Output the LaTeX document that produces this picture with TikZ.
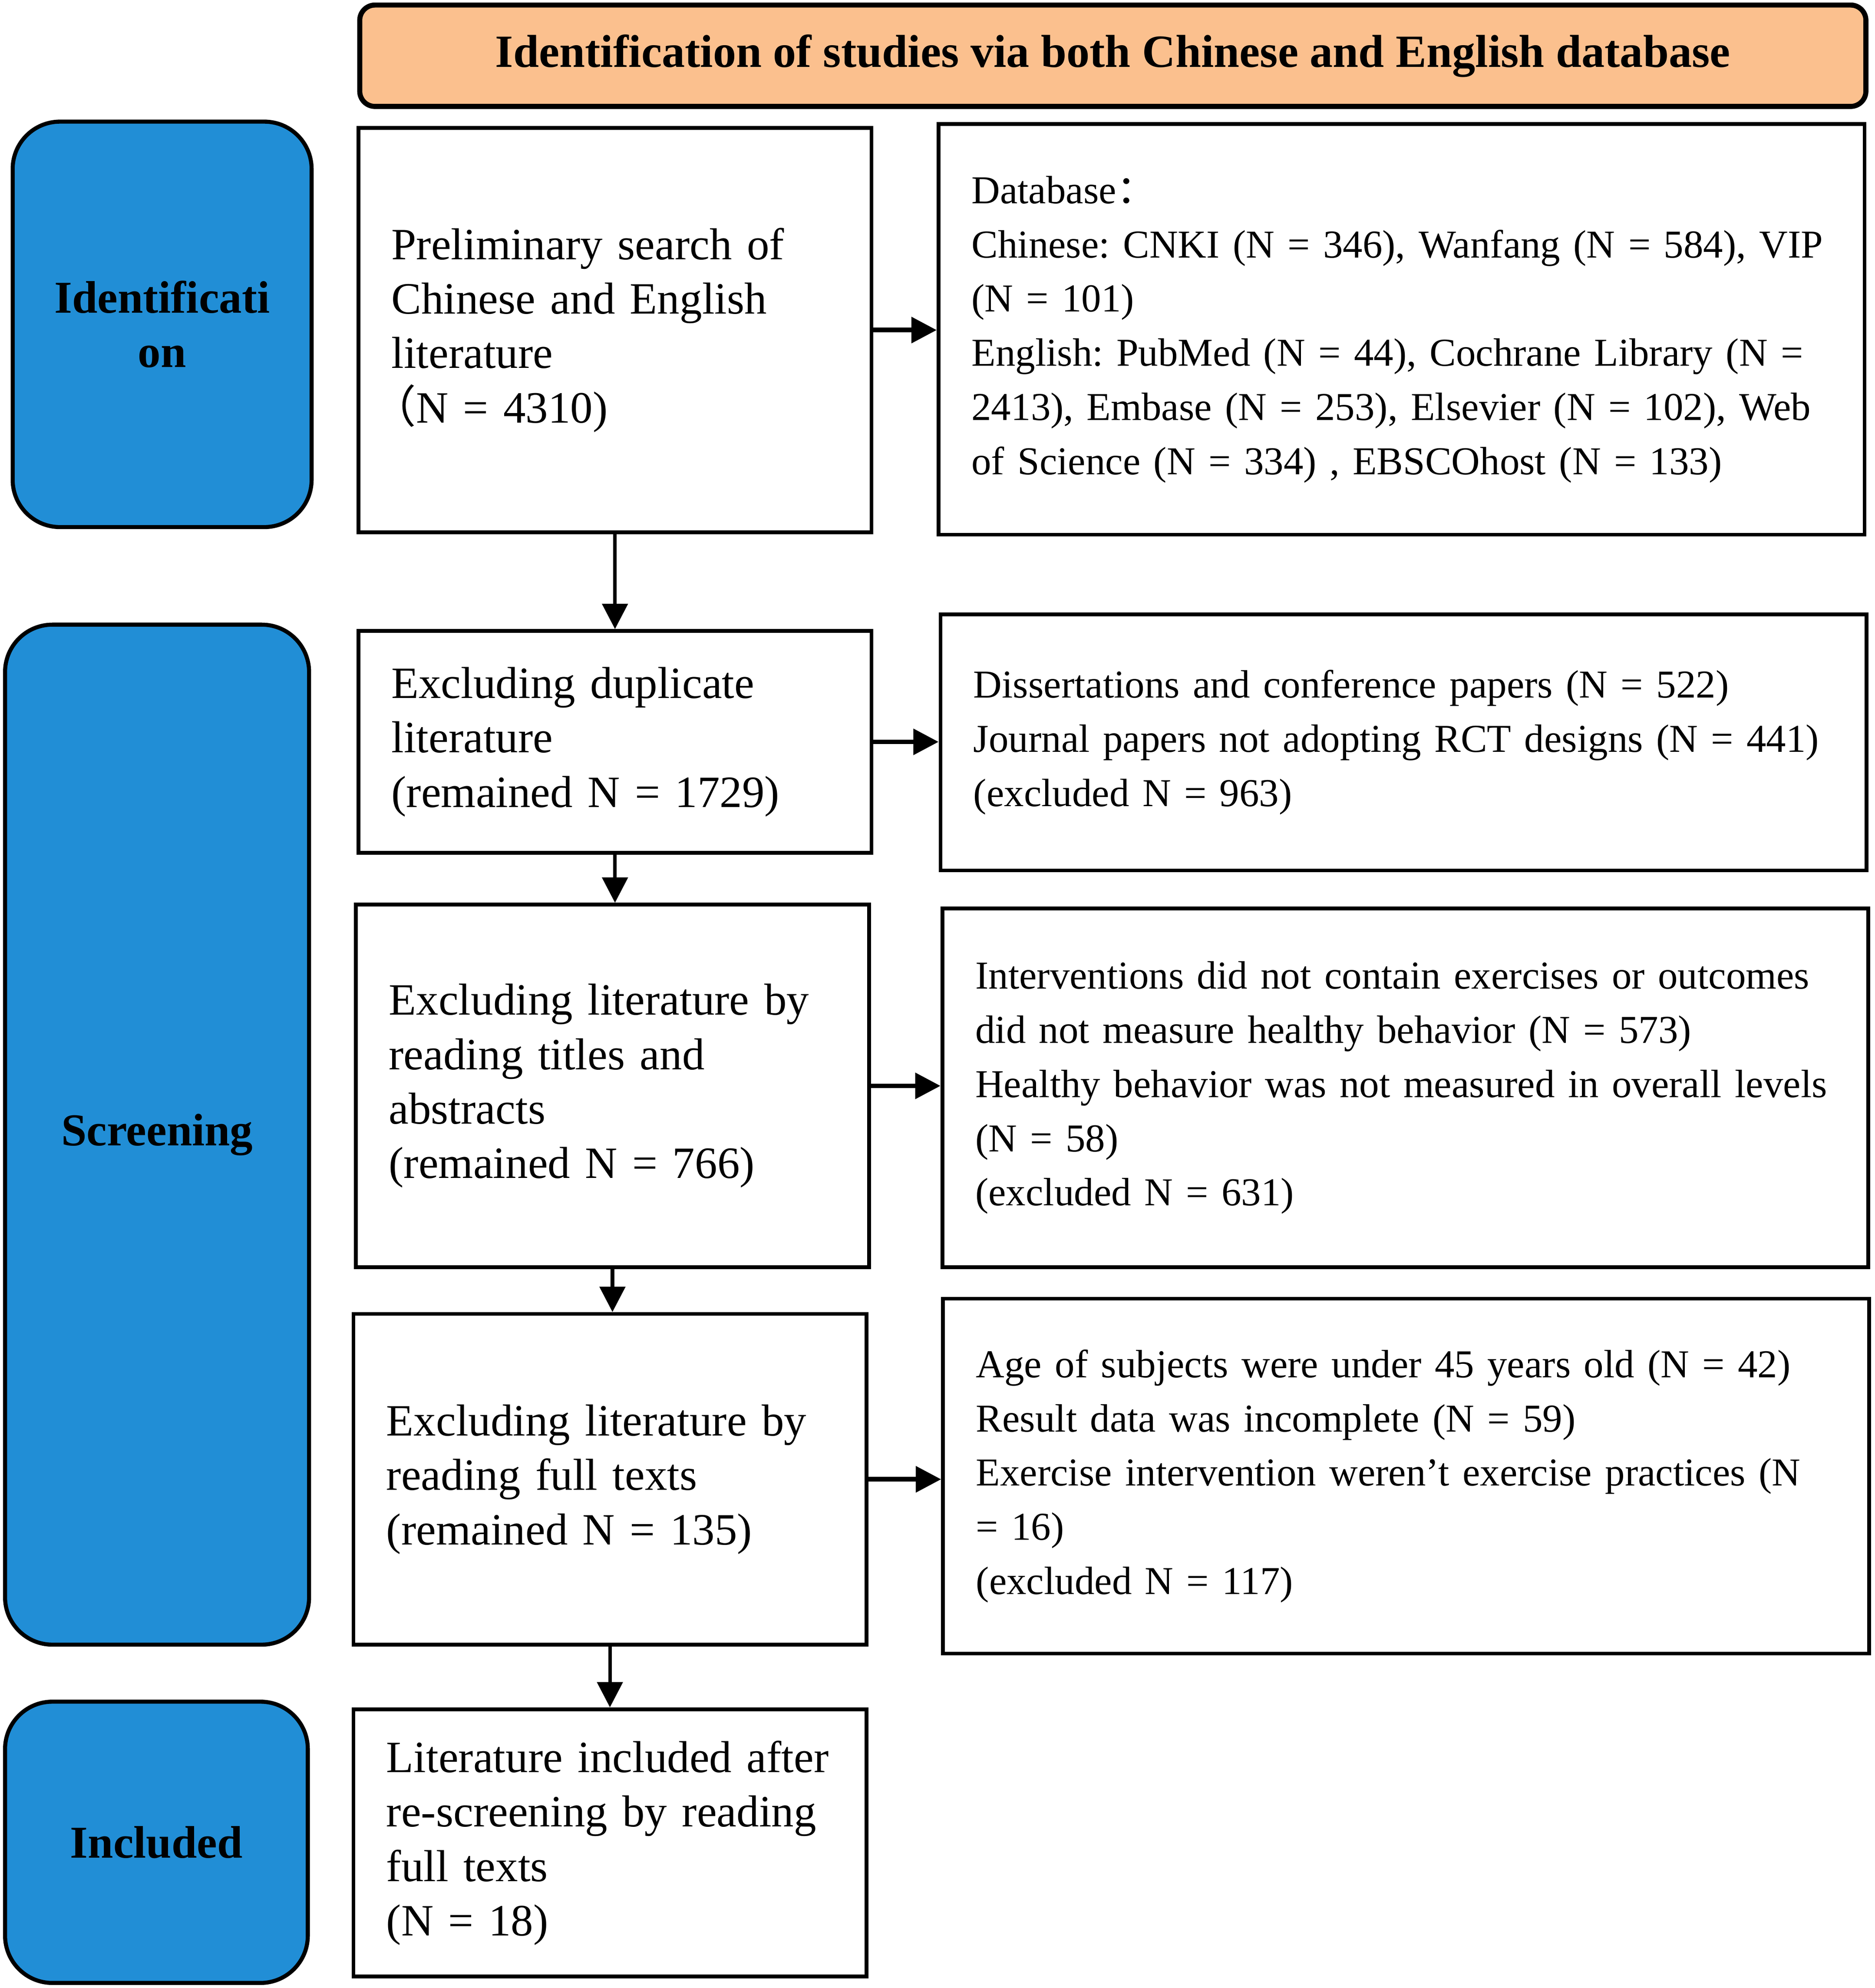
\documentclass[tikz,border=0pt]{standalone}
\usepackage{fontspec}
\setmainfont{Liberation Serif}
\newfontfamily\cjk{Noto Sans CJK SC}
\usetikzlibrary{arrows.meta}
\frenchspacing
\hyphenpenalty=10000

\definecolor{stagefill}{RGB}{33,142,214}
\definecolor{headfill}{RGB}{251,192,142}

\tikzset{every picture/.style={line width=0.75pt}}
\tikzset{
	flowbox/.style={draw, line width=2.25pt, rectangle, align=left, inner xsep=19.5pt, inner ysep=0pt, font=\fontsize{26.5pt}{32.25pt}\selectfont},
	sidebox/.style={flowbox, font=\fontsize{23.4pt}{32.1pt}\selectfont},
	stagebox/.style={draw, line width=2.4pt, fill=stagefill, rounded corners=28pt, align=center, inner sep=0pt, font=\bfseries\fontsize{27pt}{32.25pt}\selectfont},
	headbox/.style={draw, line width=3pt, fill=headfill, rounded corners=9pt, inner sep=0pt, font=\bfseries\fontsize{27.3pt}{32.25pt}\selectfont},
	downarrow/.style={-{Triangle[length=15pt,width=15pt]}, line width=2.1pt},
	sidearrow/.style={-{Triangle[length=15pt,width=15pt]}, line width=2.8pt},
}

\begin{document}
\begin{tikzpicture}[x=0.75pt,y=0.75pt,yscale=-1,xscale=1]
	\useasboundingbox (0,0) rectangle (1480,1569); %keep the page at the size of the figure

	%Shape: Rounded Rect [id:head] 
	\node[headbox, minimum width=891.75pt, minimum height=60pt] (head) at (878.5,44) {Identification of studies via both Chinese and English database};

	%Shape: Rounded Rect [id:identification] 
	\node[stagebox, minimum width=177pt, minimum height=240pt] (ident) at (128,256) {Identificati\\on};
	%Shape: Rounded Rect [id:screening] 
	\node[stagebox, minimum width=180pt, minimum height=603.75pt] (screen) at (124,895.5) {Screening};
	%Shape: Rounded Rect [id:included] 
	\node[stagebox, minimum width=179.25pt, minimum height=166.5pt] (incl) at (123.5,1454) {Included};

	%Shape: Rectangle [id:prelim] 
	\node[flowbox, text width=264.75pt, minimum height=239.25pt] (prelim) at (485.5,260.5) {Preliminary search of\\Chinese and English\\literature\\\hspace*{-.45em}{\cjk （}N = 4310)};
	%Shape: Rectangle [id:dupl] 
	\node[flowbox, text width=264.75pt, minimum height=131.25pt] (dupl) at (485.5,585.5) {Excluding duplicate\\literature\\(remained N = 1729)};
	%Shape: Rectangle [id:titles] 
	\node[flowbox, text width=264.75pt, minimum height=214.5pt] (titles) at (483.5,857) {Excluding literature by\\reading titles and\\abstracts\\(remained N = 766)};
	%Shape: Rectangle [id:fulltext] 
	\node[flowbox, text width=264.75pt, minimum height=195.75pt] (fulltext) at (481.5,1167.5) {Excluding literature by\\reading full texts\\(remained N = 135)};
	%Shape: Rectangle [id:final] 
	\node[flowbox, text width=264.75pt, minimum height=158.25pt] (final) at (481.5,1454.5) {Literature included after\\re-screening by reading\\full texts\\(N = 18)};

	%Shape: Rectangle [id:dbase] 
	\node[sidebox, text width=509.25pt, minimum height=243pt] (dbase) at (1106.5,260) {Database{\cjk ：}\\Chinese: CNKI (N = 346), Wanfang (N = 584), VIP\\(N = 101)\\English: PubMed (N = 44), Cochrane Library (N =\\2413), Embase (N = 253), Elsevier (N = 102), Web\\of Science (N = 334) , EBSCOhost (N = 133)};
	%Shape: Rectangle [id:exdupl] 
	\node[sidebox, text width=509.25pt, minimum height=151.5pt] (exdupl) at (1108,586) {Dissertations and conference papers (N = 522)\\Journal papers not adopting RCT designs (N = 441)\\(excluded N = 963)};
	%Shape: Rectangle [id:extitles] 
	\node[sidebox, text width=509.25pt, minimum height=212.25pt] (extitles) at (1109.5,858.5) {Interventions did not contain exercises or outcomes\\did not measure healthy behavior (N = 573)\\Healthy behavior was not measured in overall levels\\(N = 58)\\(excluded N = 631)};
	%Shape: Rectangle [id:exfull] 
	\node[sidebox, text width=509.25pt, minimum height=210pt] (exfull) at (1110,1165) {Age of subjects were under 45 years old (N = 42)\\Result data was incomplete (N = 59)\\Exercise intervention weren’t exercise practices (N\\= 16)\\(excluded N = 117)};

	%Straight Lines [id:down] 
	\draw[downarrow] (prelim.south) -- (prelim.south |- dupl.north);
	\draw[downarrow] (dupl.south) -- (dupl.south |- titles.north);
	\draw[downarrow] (titles.south) -- (titles.south |- fulltext.north);
	\draw[downarrow] (fulltext.south) -- (fulltext.south |- final.north);

	%Straight Lines [id:side] 
	\draw[sidearrow] (prelim.east) -- (prelim.east -| dbase.west);
	\draw[sidearrow] (dupl.east) -- (dupl.east -| exdupl.west);
	\draw[sidearrow] (titles.east) -- (titles.east -| extitles.west);
	\draw[sidearrow] (fulltext.east) -- (fulltext.east -| exfull.west);

\end{tikzpicture}
\end{document}
